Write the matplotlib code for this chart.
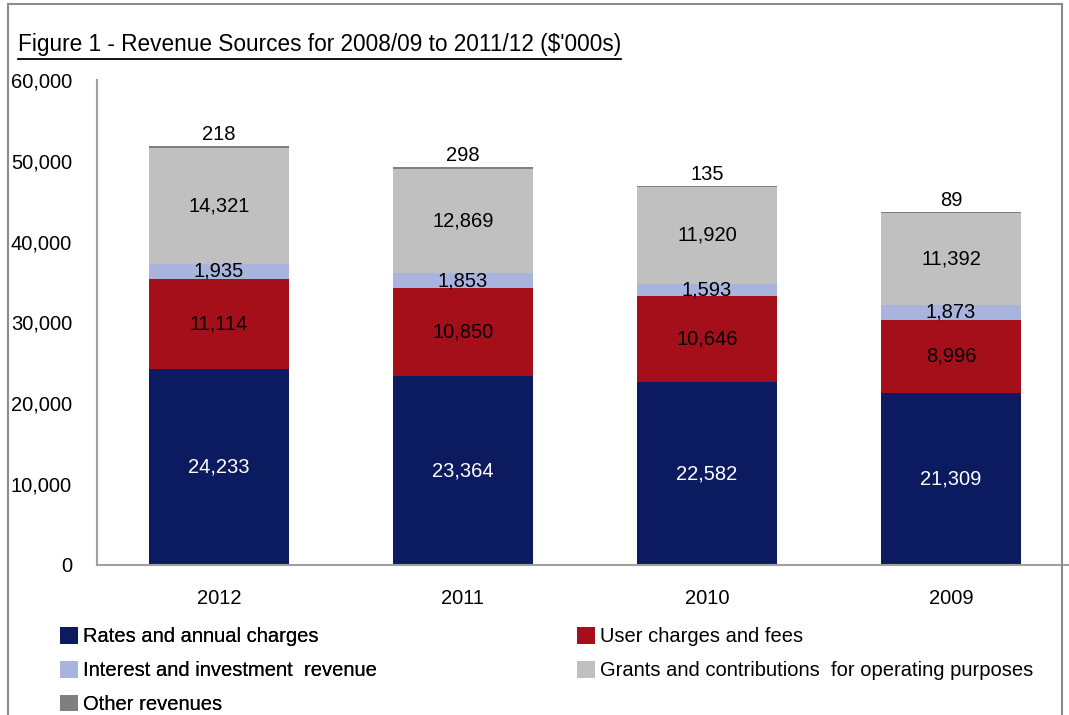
import numpy as np
import matplotlib
matplotlib.use('Agg')
import matplotlib.pyplot as plt
from matplotlib.patches import Rectangle, Patch
from matplotlib.lines import Line2D
from matplotlib.ticker import FuncFormatter

# data ($'000s)
years = ['2012', '2011', '2010', '2009']
rates = [24233, 23364, 22582, 21309]
user_charges = [11114, 10850, 10646, 8996]
interest = [1935, 1853, 1593, 1873]
grants = [14321, 12869, 11920, 11392]
other = [218, 298, 135, 89]

series = [
    ('Rates and annual charges', rates, '#0c1a5f', 'white'),
    ('User charges and fees', user_charges, '#a50f1a', 'black'),
    ('Interest and investment  revenue', interest, '#a9b4de', 'black'),
    ('Grants and contributions  for operating purposes', grants, '#c0c0c0', 'black'),
    ('Other revenues', other, '#7f7f7f', 'black'),
]

plt.rcParams['font.family'] = ['Liberation Sans Narrow', 'Liberation Sans', 'DejaVu Sans']

W, H = 1069, 715
fig = plt.figure(figsize=(W / 100, H / 100), dpi=100)

# outer frame
fig.patches.append(Rectangle((8 / W, -0.01), (1062 - 8) / W, (H - 4) / H + 0.01,
                             transform=fig.transFigure, fill=False,
                             edgecolor='#8c8c8c', linewidth=1.5))

ax = fig.add_axes([97 / W, (H - 565) / H, (1073 - 97) / W, 485 / H])
x = np.arange(len(years))
bottom = np.zeros(len(years))
handles = []
for name, vals, color, tcolor in series:
    vals = np.array(vals, dtype=float)
    ax.bar(x, vals, width=0.57, bottom=bottom, color=color, linewidth=0)
    for xi, b, v in zip(x, bottom, vals):
        if name == 'Other revenues':
            ax.text(xi, b + v + 300, f'{int(v):,}', ha='center', va='bottom',
                    fontsize=14.5, color=tcolor)
        else:
            ax.text(xi, b + v / 2, f'{int(v):,}', ha='center', va='center',
                    fontsize=14.5, color=tcolor)
    bottom += vals
    handles.append(Patch(facecolor=color, edgecolor='none', label=name))

ax.set_xlim(-0.5, 3.5)
ax.set_ylim(0, 60000)
ax.set_yticks(np.arange(0, 60001, 10000))
ax.yaxis.set_major_formatter(FuncFormatter(lambda v, p: f'{int(v):,}'))
ax.set_xticks(x)
ax.set_xticklabels(years)
ax.tick_params(axis='y', length=0, pad=18, labelsize=14.5)
ax.tick_params(axis='x', length=0, pad=17, labelsize=14.5)
for s in ['top', 'right']:
    ax.spines[s].set_visible(False)
for s in ['left', 'bottom']:
    ax.spines[s].set_color('#a0a0a0')
    ax.spines[s].set_linewidth(1.5)

title = fig.text(18 / W, 1 - 45 / H, "Figure 1 - Revenue Sources for 2008/09 to 2011/12 ($'000s)",
                 ha='left', va='center', fontsize=16.3)

leg_kw = dict(loc='upper left', frameon=False, fontsize=14.5, handlelength=0.9,
              handleheight=0.9, handletextpad=0.25, labelspacing=0.72,
              borderaxespad=0, borderpad=0)
l1 = fig.legend(handles=[handles[0], handles[2], handles[4]],
                bbox_to_anchor=(60 / W, 1 - 627 / H), **leg_kw)
fig.add_artist(l1)
fig.legend(handles=[handles[1], handles[3]],
           bbox_to_anchor=(577 / W, 1 - 627 / H), **leg_kw)

# underline the title
fig.canvas.draw()
bb = title.get_window_extent().transformed(fig.transFigure.inverted())
fig.add_artist(Line2D([bb.x0, bb.x1], [bb.y0 - 2 / H, bb.y0 - 2 / H],
                      transform=fig.transFigure, color='black', linewidth=1.3))

fig.savefig('out.png', dpi=100)
